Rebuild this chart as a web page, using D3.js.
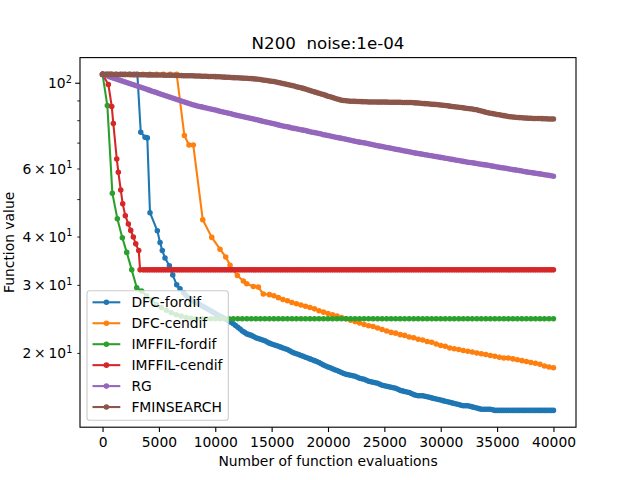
<!DOCTYPE html>
<html><head><meta charset="utf-8">
<script src="https://cdn.jsdelivr.net/npm/d3@7"></script>
<style>
body{margin:0;background:#fff}
text{font-family:"DejaVu Sans",sans-serif;fill:#000}
</style>
</head><body>
<svg id="c" width="640" height="480"></svg>
<script>
// ---------------- data ----------------
const seriesNames = ["DFC-fordif","DFC-cendif","IMFFIL-fordif","IMFFIL-cendif","RG","FMINSEARCH"];
const seriesColors = ["#1f77b4","#ff7f0e","#2ca02c","#d62728","#9467bd","#8c564b"];
const xTickValues = [0,5000,10000,15000,20000,25000,30000,35000,40000];
const yMajorTicks = [100];
const yMinorTicks = [20,30,40,50,60,70,80,90];
const yLabelledMinor = {20:"2",30:"3",40:"4",60:"6"};

const evalGrid = d3.range(0, 40001, 200);

const dfcForX = [0,400,800,1200,1600,2000,2400,2800,3090,3390,3770,3970,4210,4860,5100,5300,5540,5930,6230,6580,6870,7200].concat(d3.range(7400,40001,200));
const dfcForY = [105.1,105.1,105.1,105.1,105.1,105.1,105.1,105.1,105.1,74.5,72.3,72.0,46.1,41.4,38.6,36.8,35.2,33.6,31.8,30.0,29.3,28.6,
 28.2,
 27.8,27.55,27.3,27.1,26.9,26.7,26.5,26.3,26.1,25.9,25.7,25.5,25.3,25.1,24.9,24.75,24.6,24.4,24.2,24.0,
 23.8,23.55,23.3,23.05,22.8,22.6,22.4,22.3,22.2,22.05,21.9,21.8,21.7,21.6,21.5,21.35,21.2,21.1,21.0,20.9,
 20.8,20.7,20.6,20.5,20.4,20.25,20.1,20.0,19.9,19.8,19.7,19.6,19.5,19.4,19.3,19.2,19.1,19.0,18.9,18.75,
 18.6,18.5,18.4,18.3,18.2,18.1,18.0,17.9,17.8,17.7,17.6,17.55,17.5,17.45,17.4,17.3,17.2,17.15,17.1,17.0,
 16.9,16.85,16.8,16.75,16.7,16.6,16.5,16.45,16.4,16.35,16.3,16.25,16.2,16.1,16.0,15.95,15.9,15.85,15.8,15.7,
 15.6,15.55,15.5,15.5,15.5,15.45,15.4,15.35,15.3,15.25,15.2,15.15,15.1,15.05,15.0,14.95,14.9,14.85,14.8,14.75,
 14.7,14.65,14.6,14.6,14.6,14.55,14.5,14.45,14.4,14.35,14.3,14.3,14.3,14.3,14.3,14.25,14.2,14.2,14.2,14.2,
 14.2,14.2,14.2,14.2,14.2,14.2,14.2,14.2,14.2,14.2,14.2,14.2,14.2,14.2,14.2,14.2,14.2,14.2,14.2,14.2,
 14.2,14.2,14.2];

const dfcCenX = [0,600,1200,1800,2400,3000,3600,4200,4800,5400,6000,6580,7260,7670,8050,8890,9690,10420,10930,11310,11960,12490,12790,13380,13820,14260].concat(d3.range(14800,40001,400));
const dfcCenY = [105.1,105.1,105.1,105.1,105.1,105.1,105.1,105.1,105.1,105.1,105.1,105.1,
 73.0,69.0,69.0,44.2,39.8,37.1,35.4,33.7,31.7,30.7,30.2,29.7,29.6,28.4,
 28.3,28.1,27.8,27.5,27.3,27.0,26.8,26.6,26.4,26.2,
 26.0,25.7,25.5,25.3,25.1,24.9,24.7,24.5,24.3,24.1,
 23.9,23.7,23.5,23.4,23.2,23.0,22.8,22.6,22.5,22.3,
 22.2,22.0,21.9,21.7,21.6,21.4,21.3,21.1,20.9,20.8,
 20.6,20.5,20.4,20.3,20.2,20.1,20.0,19.9,19.8,19.7,
 19.6,19.5,19.4,19.4,19.3,19.2,19.1,19.0,18.9,18.8,
 18.7,18.5,18.4,18.3];

const imfForX = [0,426,870,1313,1756,2147,2590,3034,3470,3900,4340,4780,5220,5660,6100,6540,6980,7420,7860,8300].concat(d3.range(8800,40001,400));
const imfForY = [105.1,87.3,51.8,44.5,39.7,36.4,32.8,29.5,28.9,28.1,27.4,26.7,26.2,25.8,25.4,25.1,24.9,24.7,24.6,24.5,
 24.5,24.5,24.5,24.5,24.5,24.5,24.5,24.5,24.5,24.5,
 24.5,24.5,24.5,24.5,24.5,24.5,24.5,24.5,24.5,24.5,
 24.5,24.5,24.5,24.5,24.5,24.5,24.5,24.5,24.5,24.5,
 24.5,24.5,24.5,24.5,24.5,24.5,24.5,24.5,24.5,24.5,
 24.5,24.5,24.5,24.5,24.5,24.5,24.5,24.5,24.5,24.5,
 24.5,24.5,24.5,24.5,24.5,24.5,24.5,24.5,24.5,24.5,
 24.5,24.5,24.5,24.5,24.5,24.5,24.5,24.5,24.5,24.5,
 24.5,24.5,24.5,24.5,24.5,24.5,24.5,24.5,24.5];

const imfCenX = [0,515,816,958,1260,1400,1615,1790,2020,2290,2500,2730,2945,3210,3330].concat(d3.range(3600,40001,200));
const imfCenY = [105.1,99.0,86.8,78.4,63.5,58.7,52.8,48.6,45.3,43.1,41.5,39.9,38.3,36.8,32.8,
 32.8,32.8,32.8,32.8,32.8,32.8,32.8,32.8,32.8,32.8,32.8,32.8,32.8,32.8,32.8,32.8,32.8,32.8,32.8,32.8,
 32.8,32.8,32.8,32.8,32.8,32.8,32.8,32.8,32.8,32.8,32.8,32.8,32.8,32.8,32.8,32.8,32.8,32.8,32.8,32.8,
 32.8,32.8,32.8,32.8,32.8,32.8,32.8,32.8,32.8,32.8,32.8,32.8,32.8,32.8,32.8,32.8,32.8,32.8,32.8,32.8,
 32.8,32.8,32.8,32.8,32.8,32.8,32.8,32.8,32.8,32.8,32.8,32.8,32.8,32.8,32.8,32.8,32.8,32.8,32.8,32.8,
 32.8,32.8,32.8,32.8,32.8,32.8,32.8,32.8,32.8,32.8,32.8,32.8,32.8,32.8,32.8,32.8,32.8,32.8,32.8,32.8,
 32.8,32.8,32.8,32.8,32.8,32.8,32.8,32.8,32.8,32.8,32.8,32.8,32.8,32.8,32.8,32.8,32.8,32.8,32.8,32.8,
 32.8,32.8,32.8,32.8,32.8,32.8,32.8,32.8,32.8,32.8,32.8,32.8,32.8,32.8,32.8,32.8,32.8,32.8,32.8,32.8,
 32.8,32.8,32.8,32.8,32.8,32.8,32.8,32.8,32.8,32.8,32.8,32.8,32.8,32.8,32.8,32.8,32.8,32.8,32.8,32.8,
 32.8,32.8,32.8,32.8,32.8,32.8,32.8,32.8,32.8,32.8,32.8,32.8,32.8,32.8,32.8,32.8,32.8,32.8,32.8,32.8,
 32.8,32.8,32.8];

const rgY = [105.1,104.65,104.2,103.7,103.2,102.75,102.3,101.85,101.4,100.95,100.5,100.05,99.6,99.15,98.7,98.25,97.8,97.35,96.9,96.45,
 96.0,95.55,95.1,94.7,94.3,93.85,93.4,93.0,92.6,92.15,91.7,91.3,90.9,90.5,90.1,89.7,89.3,88.9,88.5,88.1,
 87.7,87.4,87.1,86.85,86.6,86.3,86.0,85.75,85.5,85.25,85.0,84.7,84.4,84.15,83.9,83.65,83.4,83.1,82.8,82.55,
 82.3,82.05,81.8,81.55,81.3,81.05,80.8,80.55,80.3,80.05,79.8,79.55,79.3,79.05,78.8,78.55,78.3,78.05,77.8,77.55,
 77.3,77.1,76.9,76.65,76.4,76.2,76.0,75.8,75.6,75.4,75.2,74.95,74.7,74.5,74.3,74.1,73.9,73.65,73.4,73.2,
 73.0,72.8,72.6,72.4,72.2,72.0,71.8,71.6,71.4,71.2,71.0,70.8,70.6,70.4,70.2,70.05,69.9,69.7,69.5,69.3,
 69.1,68.9,68.7,68.55,68.4,68.2,68.0,67.85,67.7,67.5,67.3,67.15,67.0,66.8,66.6,66.45,66.3,66.1,65.9,65.75,
 65.6,65.45,65.3,65.15,65.0,64.85,64.7,64.55,64.4,64.25,64.1,63.95,63.8,63.65,63.5,63.35,63.2,63.05,62.9,62.75,
 62.6,62.45,62.3,62.2,62.1,61.95,61.8,61.65,61.5,61.4,61.3,61.15,61.0,60.85,60.7,60.55,60.4,60.3,60.2,60.05,
 59.9,59.75,59.6,59.5,59.4,59.25,59.1,58.95,58.8,58.7,58.6,58.45,58.3,58.2,58.1,57.95,57.8,57.7,57.6,57.45,
 57.3];

const fminY = [105.1,105.1,105.1,105.1,105.1,105.05,105.0,105.0,105.0,105.0,105.0,105.0,105.0,104.95,104.9,104.9,104.9,104.9,104.9,104.85,
 104.8,104.8,104.8,104.75,104.7,104.7,104.7,104.65,104.6,104.6,104.6,104.55,104.5,104.45,104.4,104.35,104.3,104.3,104.3,104.25,
 104.2,104.15,104.1,104.05,104.0,103.95,103.9,103.85,103.8,103.75,103.7,103.65,103.6,103.5,103.4,103.35,103.3,103.2,103.1,103.05,
 103.0,102.9,102.8,102.75,102.7,102.6,102.5,102.35,102.2,102.05,101.9,101.7,101.5,101.3,101.1,100.9,100.7,100.45,100.2,99.9,
 99.6,99.3,99.0,98.7,98.4,98.05,97.7,97.4,97.1,96.7,96.3,95.9,95.5,95.1,94.7,94.3,93.9,93.55,93.2,92.75,
 92.3,91.95,91.6,91.2,90.8,90.45,90.1,89.95,89.8,89.7,89.6,89.55,89.5,89.45,89.4,89.35,89.3,89.25,89.2,89.2,
 89.2,89.15,89.1,89.1,89.1,89.1,89.1,89.05,89.0,89.0,89.0,89.0,89.0,88.95,88.9,88.9,88.9,88.85,88.8,88.7,
 88.6,88.5,88.4,88.3,88.2,88.1,88.0,87.9,87.8,87.7,87.6,87.45,87.3,87.15,87.0,86.85,86.7,86.55,86.4,86.25,
 86.1,85.95,85.8,85.65,85.5,85.3,85.1,84.8,84.5,84.2,83.9,83.65,83.4,83.2,83.0,82.8,82.6,82.4,82.2,82.0,
 81.8,81.65,81.5,81.4,81.3,81.25,81.2,81.1,81.0,80.95,80.9,80.85,80.8,80.8,80.8,80.75,80.7,80.65,80.6,80.6,
 80.6];

const seriesX = [dfcForX, dfcCenX, imfForX, imfCenX, evalGrid, evalGrid];
const seriesY = [dfcForY, dfcCenY, imfForY, imfCenY, rgY, fminY];

// ---------------- drawing ----------------
const L = 80, T = 57.6, R = 576, B = 427.2;
const PT = 100/72;
const svg = d3.select("#c");

const x = d3.scaleLinear().domain([-2000, 42000]).range([L, R]);
const allY = [].concat(...seriesY);
const lo = Math.log10(d3.min(allY)), hi = Math.log10(d3.max(allY)), mg = (hi - lo) * 0.05;
const y = d3.scaleLog().domain([Math.pow(10, lo - mg), Math.pow(10, hi + mg)]).range([B, T]);

svg.append("rect").attr("x",0).attr("y",0).attr("width",640).attr("height",480).attr("fill","#fff");

const plot = svg.append("g");
const line = d3.line().x(d => x(d[0])).y(d => y(d[1]));

seriesNames.forEach((name, i) => {
  const n = Math.min(seriesX[i].length, seriesY[i].length);
  const pts = d3.range(n).map(k => [seriesX[i][k], seriesY[i][k]]);
  const g = plot.append("g");
  g.append("path").attr("d", line(pts)).attr("fill","none")
    .attr("stroke", seriesColors[i]).attr("stroke-width", 1.5*PT)
    .attr("stroke-linejoin","round").attr("stroke-linecap","square");
  g.selectAll("circle").data(pts).join("circle")
    .attr("cx", d => x(d[0])).attr("cy", d => y(d[1]))
    .attr("r", 1.5*PT).attr("fill", seriesColors[i])
    .attr("stroke", seriesColors[i]).attr("stroke-width", 1.0*PT);
});

// axes frame
svg.append("rect").attr("x",L).attr("y",T).attr("width",R-L).attr("height",B-T)
  .attr("fill","none").attr("stroke","#000").attr("stroke-width",0.8*PT);

const FS = 10*PT;
// x axis
const xAxis = d3.axisBottom(x).tickValues(xTickValues).tickSize(3.5*PT).tickPadding(3.5*PT).tickFormat(d3.format("d"));
const gx = svg.append("g").attr("transform",`translate(0,${B})`).call(xAxis);
gx.select(".domain").remove();
gx.selectAll(".tick line").attr("stroke","#000").attr("stroke-width",0.8*PT);
gx.selectAll(".tick text").attr("font-size",FS).attr("font-family","DejaVu Sans").attr("fill","#000")
  .attr("dy",null).attr("y", 20.3);

// y axis: major + minor ticks
const gyM = svg.append("g").attr("transform",`translate(${L},0)`)
  .call(d3.axisLeft(y).tickValues(yMajorTicks).tickSize(3.5*PT).tickFormat(""));
gyM.select(".domain").remove();
gyM.selectAll(".tick line").attr("stroke","#000").attr("stroke-width",0.8*PT);
const gym = svg.append("g").attr("transform",`translate(${L},0)`)
  .call(d3.axisLeft(y).tickValues(yMinorTicks).tickSize(2*PT).tickFormat(""));
gym.select(".domain").remove();
gym.selectAll(".tick line").attr("stroke","#000").attr("stroke-width",0.6*PT);

function supLabel(xpos, ypos, base, sup) {
  const t = svg.append("text").attr("x", xpos).attr("y", ypos).attr("text-anchor","end")
    .attr("font-size", FS).style("white-space","pre");
  t.append("tspan").text(base);
  t.append("tspan").attr("dy", -5.6).attr("font-size", FS*0.7).text(sup);
}
yMajorTicks.forEach(v => supLabel(L - 3.5*PT - 3.5*PT + 1.6, y(v) + 5.5, "10", "2"));
yMinorTicks.filter(v => yLabelledMinor[v]).forEach(v =>
  supLabel(L - 2*PT - 3.5*PT, y(v) + 5.5, yLabelledMinor[v] + "\u2009\u00d7\u200910", "1"));

// title and labels
svg.append("text").attr("x",(L+R)/2).attr("y",49.3).attr("text-anchor","middle")
  .attr("font-size",12*PT).style("white-space","pre").text("N200  noise:1e-04");
svg.append("text").attr("x",(L+R)/2).attr("y",466).attr("text-anchor","middle")
  .attr("font-size",FS).text("Number of function evaluations");
svg.append("text").attr("transform",`translate(13.5,${(T+B)/2}) rotate(-90)`).attr("text-anchor","middle")
  .attr("font-size",FS).text("Function value");

// legend
const lg = svg.append("g");
lg.append("rect").attr("x",87).attr("y",290.7).attr("width",141.3).attr("height",129.5)
  .attr("rx",2.8).attr("fill","#fff").attr("fill-opacity",0.8)
  .attr("stroke","#cccccc").attr("stroke-width",0.8*PT);
seriesNames.forEach((name,i) => {
  const cy = 302.3 + i*20.95;
  lg.append("line").attr("x1",92.5).attr("x2",120.3).attr("y1",cy).attr("y2",cy)
    .attr("stroke",seriesColors[i]).attr("stroke-width",1.5*PT);
  lg.append("circle").attr("cx",106.4).attr("cy",cy).attr("r",1.5*PT)
    .attr("fill",seriesColors[i]).attr("stroke",seriesColors[i]).attr("stroke-width",PT);
  lg.append("text").attr("x",131.4).attr("y",cy+5).attr("font-size",FS).text(name);
});
</script>
</body></html>
